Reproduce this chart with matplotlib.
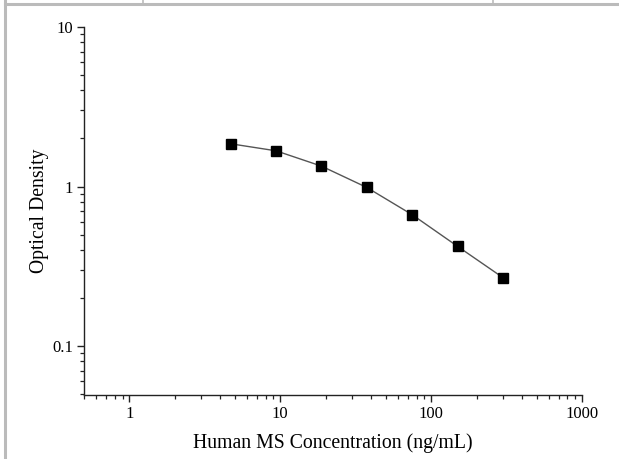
import matplotlib
matplotlib.use("Agg")
import matplotlib.pyplot as plt
from matplotlib.ticker import LogLocator, FixedLocator, FixedFormatter, NullFormatter
from matplotlib.lines import Line2D

concentration = [4.6875, 9.375, 18.75, 37.5, 75, 150, 300]
optical_density = [1.853, 1.674, 1.342, 0.986, 0.665, 0.421, 0.268]
x_ticks = [1, 10, 100, 1000]
x_tick_labels = ["1", "10", "100", "1000"]
y_ticks = [0.1, 1, 10]
y_tick_labels = ["0.1", "1", "10"]

plt.rcParams['font.family'] = ['Liberation Serif', 'DejaVu Serif']

fig = plt.figure(figsize=(6.19, 4.59), dpi=100)
ax = fig.add_axes([0.1357, 0.1394, 0.8045, 0.8018])

ax.plot(concentration, optical_density, color='#555555', lw=1.0,
        marker='s', markersize=6.8, markerfacecolor='black',
        markeredgecolor='black', zorder=3)

ax.set_xscale('log')
ax.set_yscale('log')
ax.set_xlim(0.5, 1000)
ax.set_ylim(0.0493, 10)

ax.xaxis.set_major_locator(FixedLocator(x_ticks))
ax.xaxis.set_major_formatter(FixedFormatter(x_tick_labels))
ax.yaxis.set_major_locator(FixedLocator(y_ticks))
ax.yaxis.set_major_formatter(FixedFormatter(y_tick_labels))
ax.xaxis.set_minor_locator(LogLocator(base=10, subs=range(2, 10)))
ax.yaxis.set_minor_locator(LogLocator(base=10, subs=range(2, 10)))
ax.xaxis.set_minor_formatter(NullFormatter())
ax.yaxis.set_minor_formatter(NullFormatter())

for s in ['top', 'right']:
    ax.spines[s].set_visible(False)
for s in ['left', 'bottom']:
    ax.spines[s].set_linewidth(1.0)
    ax.spines[s].set_color('#222222')

ax.tick_params(which='major', direction='out', length=5, width=1.0,
               labelsize=12, color='#222222', pad=3)
ax.tick_params(which='minor', direction='out', length=3, width=0.9,
               color='#222222')

ax.set_xlabel('Human MS Concentration (ng/mL)', fontsize=14.2, labelpad=8)
ax.set_ylabel('Optical Density', fontsize=14.2, labelpad=2)

# page/table borders around the chart (from the screenshot)
fig.add_artist(Line2D([4.5/619, 4.5/619], [0, 1], transform=fig.transFigure,
                      color='#bbbbbb', lw=2.2))
fig.add_artist(Line2D([4.5/619, 618/619], [1-4/459, 1-4/459], transform=fig.transFigure,
                      color='#bbbbbb', lw=2.2))
for xv in [143, 493]:
    fig.add_artist(Line2D([xv/619, xv/619], [1-4/459, 1], transform=fig.transFigure,
                          color='#bbbbbb', lw=1.2))

fig.savefig('out.png', dpi=100)
